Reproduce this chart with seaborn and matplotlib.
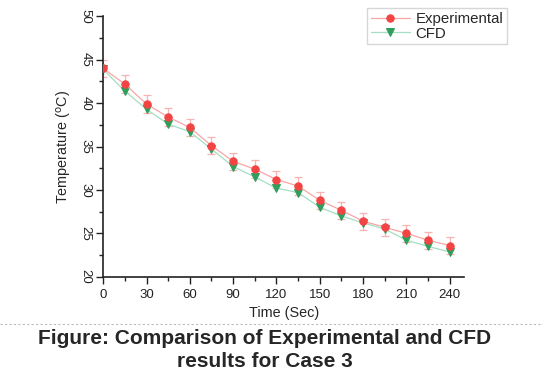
import matplotlib
matplotlib.use("Agg")
import matplotlib.pyplot as plt
from matplotlib.lines import Line2D
from matplotlib.ticker import MultipleLocator
import seaborn as sns
import pandas as pd

time_sec = [0, 15, 30, 45, 60, 75, 90, 105, 120, 135, 150, 165, 180, 195, 210, 225, 240]
experimental = [44.0, 42.2, 39.9, 38.4, 37.2, 35.1, 33.3, 32.4, 31.2, 30.45, 28.8, 27.65, 26.4, 25.7, 25.0, 24.2, 23.6]
cfd = [43.9, 41.4, 39.3, 37.6, 36.7, 34.7, 32.7, 31.5, 30.2, 29.7, 28.0, 27.0, 26.2, 25.5, 24.2, 23.5, 22.85]
exp_err = [1.0] * len(time_sec)

df = pd.DataFrame({"Time": time_sec, "Experimental": experimental, "CFD": cfd})

sns.set_style("ticks")
plt.rcParams["font.family"] = ["Liberation Sans", "DejaVu Sans"]

fig = plt.figure(figsize=(5.43, 3.72), dpi=100)
ax = fig.add_axes([0.190, 0.256, 0.665, 0.700])

# error bars behind markers
ax.errorbar(df["Time"], df["Experimental"], yerr=exp_err, fmt="none",
            ecolor="#f7b3b3", elinewidth=0.9, capsize=3, capthick=0.9, zorder=1)

sns.lineplot(data=df, x="Time", y="Experimental", ax=ax, color="#f8a5a5", lw=0.9,
             marker="o", markersize=5.3, markerfacecolor="#f34444", markeredgecolor="#f34444",
             label="Experimental", zorder=3)
sns.lineplot(data=df, x="Time", y="CFD", ax=ax, color="#a3dfc2", lw=0.9,
             marker="v", markersize=5.8, markerfacecolor="#2f9e5c", markeredgecolor="#2f9e5c",
             label="CFD", zorder=2)

ax.set_xlim(0, 250)
ax.set_ylim(20, 50)
ax.xaxis.set_major_locator(MultipleLocator(30))
ax.xaxis.set_minor_locator(MultipleLocator(15))
ax.yaxis.set_major_locator(MultipleLocator(5))
ax.yaxis.set_minor_locator(MultipleLocator(2.5))
ax.tick_params(which="major", length=5, width=1, labelsize=9.5, colors="#222222")
ax.tick_params(which="minor", length=3, width=1)
for lbl in ax.get_yticklabels():
    lbl.set_rotation(-90)
    lbl.set_va("center")
for side in ["top", "right"]:
    ax.spines[side].set_visible(False)
for side in ["left", "bottom"]:
    ax.spines[side].set_linewidth(1.2)
    ax.spines[side].set_color("#222222")

ax.set_xlabel("Time (Sec)", fontsize=10.4, labelpad=4)
ax.set_ylabel("Temperature ($^{\\mathrm{o}}$C)", fontsize=10.4, labelpad=4)

handles, labels = ax.get_legend_handles_labels()
ax.get_legend().remove()
fig.legend(handles, labels, loc="upper right", bbox_to_anchor=(0.934, 0.978),
           borderaxespad=0, fontsize=10.8, frameon=True, fancybox=False,
           edgecolor="#cccccc", borderpad=0.25, labelspacing=0.05,
           handlelength=2.6, handletextpad=0.4)

# dashed separator above caption
fig.add_artist(Line2D([0, 1], [0.128, 0.128], transform=fig.transFigure,
                      color="#bbbbbb", lw=0.8, ls=(0, (2, 2))))
fig.text(0.487, 0.091, "Figure: Comparison of Experimental and CFD",
         ha="center", va="center", fontsize=15, fontweight="bold")
fig.text(0.487, 0.027, "results for Case 3",
         ha="center", va="center", fontsize=15, fontweight="bold")

fig.savefig("out.png", dpi=100)
